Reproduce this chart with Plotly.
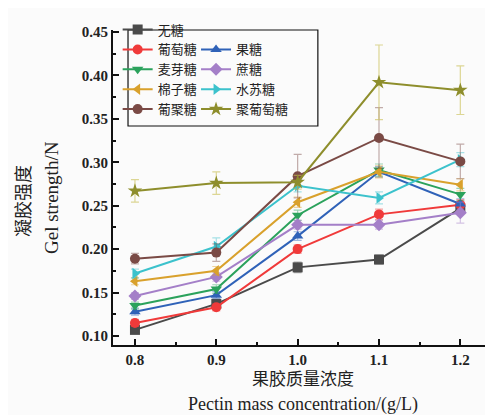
import plotly.graph_objects as go

x_vals = [0.8, 0.9, 1.0, 1.1, 1.2]

names = ["无糖", "葡萄糖", "果糖", "麦芽糖", "蔗糖", "棉子糖", "水苏糖", "葡聚糖", "聚葡萄糖"]

wu_tang = [0.107, 0.137, 0.179, 0.188, 0.247]
putaotang = [0.115, 0.133, 0.200, 0.240, 0.251]
guotang = [0.128, 0.147, 0.215, 0.289, 0.252]
maiyatang = [0.135, 0.154, 0.239, 0.291, 0.263]
zhetang = [0.146, 0.168, 0.228, 0.228, 0.242]
mianzitang = [0.163, 0.175, 0.254, 0.289, 0.274]
shusutang = [0.172, 0.203, 0.273, 0.259, 0.303]
jutang = [0.189, 0.196, 0.284, 0.328, 0.301]
jupu = [0.267, 0.276, 0.277, 0.392, 0.383]

err_wu = [0.004, 0.004, 0.006, 0.005, 0.006]
err_pu = [0.004, 0.004, 0.005, 0.006, 0.006]
err_guo = [0.004, 0.004, 0.005, 0.006, 0.006]
err_mai = [0.004, 0.005, 0.006, 0.007, 0.007]
err_zhe = [0.004, 0.005, 0.005, 0.005, 0.012]
err_mian = [0.004, 0.005, 0.006, 0.007, 0.007]
err_shu = [0.005, 0.010, 0.007, 0.007, 0.008]
err_ju = [0.006, 0.010, 0.025, 0.035, 0.020]
err_jupu = [0.013, 0.013, 0.008, 0.043, 0.028]

series = [wu_tang, putaotang, guotang, maiyatang, zhetang, mianzitang, shusutang, jutang, jupu]
errors = [err_wu, err_pu, err_guo, err_mai, err_zhe, err_mian, err_shu, err_ju, err_jupu]
colors = ["#4a4a4a", "#f03a3a", "#2f62b8", "#2ba25c", "#a47fc8", "#d9a12c", "#3cc2cc", "#7a4a45", "#8e8e2c"]
err_colors = ["rgba(74,74,74,0.45)", "rgba(240,58,58,0.45)", "rgba(47,98,184,0.45)", "rgba(43,162,92,0.45)",
              "rgba(164,127,200,0.45)", "rgba(217,161,44,0.45)", "rgba(60,194,204,0.45)", "rgba(122,74,69,0.45)",
              "rgba(200,190,80,0.6)"]
symbols = ["square", "circle", "triangle-up", "triangle-down", "diamond", "triangle-left", "triangle-right", "circle", "star"]
legend_ids = ["legend", "legend", "legend2", "legend", "legend2", "legend", "legend2", "legend", "legend2"]
ranks = [1, 2, 11, 3, 12, 4, 13, 5, 14]

fig = go.Figure()
for nm, ys, er, c, ec, s, lg, rk in zip(names, series, errors, colors, err_colors, symbols, legend_ids, ranks):
    fig.add_trace(go.Scatter(
        x=x_vals, y=ys, name=nm, mode="lines+markers",
        line=dict(color=c, width=2),
        marker=dict(symbol=s, size=10 if s != "star" else 11, color=c),
        error_y=dict(type="data", array=er, color=ec, thickness=1.2, width=4),
        legend=lg, legendrank=rk,
    ))

serif = "Times New Roman, Liberation Serif, Noto Sans CJK SC, serif"
tickfont = dict(size=15, family="Times New Roman, Liberation Serif, serif", color="#222", weight="bold")
legfont = dict(size=13, family=serif, color="#222")
row = 19.9 / 315
fig.update_layout(
    width=493, height=415,
    margin=dict(l=105, r=0, t=22, b=78),
    paper_bgcolor="#fbfbfb", plot_bgcolor="#fbfbfb",
    font=dict(family=serif, color="#222"),
    legend=dict(x=0.012, y=1.049, xanchor="left", yanchor="top", bgcolor="rgba(0,0,0,0)",
                font=legfont, tracegroupgap=0, traceorder="normal"),
    legend2=dict(x=0.214, y=1.049 - row, xanchor="left", yanchor="top", bgcolor="rgba(0,0,0,0)",
                 font=legfont, tracegroupgap=0, traceorder="normal"),
    showlegend=True,
)
fig.add_shape(type="rect", xref="paper", yref="paper", x0=0.0387, x1=0.528, y0=(337 - 118) / 315, y1=1.0,
              line=dict(color="#111", width=1.2), fillcolor="rgba(0,0,0,0)")

fig.update_xaxes(range=[0.773, 1.25], tickvals=x_vals, ticktext=["0.8", "0.9", "1.0", "1.1", "1.2"],
                 ticks="inside", ticklen=6, tickwidth=2, tickcolor="#111",
                 minor=dict(dtick=0.05, ticks="inside", ticklen=3, tickwidth=2, tickcolor="#111"),
                 showline=True, linecolor="#111", linewidth=2, showgrid=False, zeroline=False,
                 tickfont=tickfont)
fig.update_yaxes(range=[0.0896, 0.4523], tickvals=[0.10, 0.15, 0.20, 0.25, 0.30, 0.35, 0.40, 0.45],
                 ticktext=["0.10", "0.15", "0.20", "0.25", "0.30", "0.35", "0.40", "0.45"],
                 ticks="inside", ticklen=6, tickwidth=2, tickcolor="#111",
                 minor=dict(dtick=0.025, ticks="inside", ticklen=3, tickwidth=2, tickcolor="#111"),
                 showline=True, linecolor="#111", linewidth=2, showgrid=False, zeroline=False,
                 tickfont=tickfont)

def ann(px, py, text, size, angle=0):
    fig.add_annotation(xref="paper", yref="paper", x=(px - 105) / 388, y=(337 - py) / 315,
                       xanchor="center", yanchor="middle", text=text, showarrow=False, textangle=angle,
                       font=dict(size=size, family=serif, color="#222"))

ann(295, 371, "果胶质量浓度", 17)
ann(295, 396, "Pectin mass concentration/(g/L)", 18)
ann(16, 193, "凝胶强度", 18, -90)
ann(43, 190, "Gel strength/N", 19, -90)

fig.write_html("out.html")
